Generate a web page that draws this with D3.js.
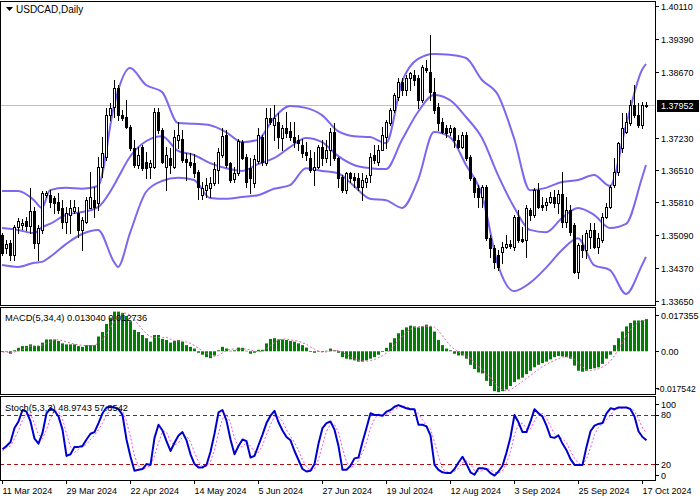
<!DOCTYPE html>
<html><head><meta charset="utf-8">
<script src="https://cdn.jsdelivr.net/npm/d3@7"></script>
<style>
body{margin:0;background:#fff}
svg{display:block}
text{font-family:"Liberation Sans",Arial,sans-serif;fill:#000}
</style>
</head><body>
<svg id="c" width="700" height="500"></svg>
<script>
// ---------- DATA ----------
const symbolTitle = "USDCAD,Daily";
const open = [1.3510,1.3481,1.3492,1.3466,1.3527,1.3532,1.3541,1.3530,1.3563,1.3492,
1.3521,1.3597,1.3597,1.3591,1.3582,1.3569,1.3538,1.3554,1.3563,1.3558,
1.3521,1.3538,1.3569,1.3586,1.3580,1.3659,1.3681,1.3772,1.3790,1.3831,
1.3772,1.3768,1.3746,1.3700,1.3663,1.3702,1.3670,1.3659,1.3659,1.3778,
1.3740,1.3659,1.3678,1.3659,1.3718,1.3720,1.3676,1.3670,1.3668,1.3648,
1.3597,1.3608,1.3613,1.3624,1.3652,1.3685,1.3729,1.3668,1.3632,1.3646,
1.3713,1.3681,1.3657,1.3624,1.3672,1.3724,1.3668,1.3766,1.3750,1.3757,
1.3722,1.3744,1.3737,1.3724,1.3718,1.3707,1.3691,1.3678,1.3652,1.3659,
1.3702,1.3678,1.3696,1.3735,1.3678,1.3637,1.3608,1.3646,1.3637,1.3635,
1.3615,1.3626,1.3641,1.3685,1.3670,1.3696,1.3724,1.3755,1.3783,1.3812,
1.3845,1.3827,1.3853,1.3860,1.3853,1.3805,1.3875,1.3866,1.3823,1.3790,
1.3757,1.3744,1.3735,1.3744,1.3718,1.3702,1.3729,1.3681,1.3635,1.3613,
1.3593,1.3615,1.3503,1.3481,1.3466,1.3473,1.3484,1.3490,1.3484,1.3549,
1.3501,1.3499,1.3565,1.3554,1.3608,1.3575,1.3575,1.3582,1.3593,1.3580,
1.3600,1.3538,1.3565,1.3532,1.3429,1.3488,1.3477,1.3505,1.3521,1.3484,
1.3499,1.3549,1.3571,1.3619,1.3648,1.3700,1.3735,1.3755,1.3794,1.3772,
1.3750,1.3792];
const high = [1.3514,1.3499,1.3499,1.3532,1.3547,1.3545,1.3549,1.3612,1.3571,1.3532,
1.3606,1.3606,1.3608,1.3595,1.3602,1.3586,1.3571,1.3586,1.3586,1.3571,
1.3549,1.3593,1.3648,1.3615,1.3681,1.3725,1.3787,1.3799,1.3849,1.3838,
1.3783,1.3805,1.3750,1.3718,1.3702,1.3707,1.3692,1.3674,1.3787,1.3787,
1.3744,1.3702,1.3700,1.3740,1.3757,1.3740,1.3689,1.3689,1.3687,1.3652,
1.3626,1.3635,1.3637,1.3670,1.3700,1.3744,1.3740,1.3670,1.3659,1.3720,
1.3718,1.3687,1.3678,1.3685,1.3744,1.3729,1.3787,1.3787,1.3794,1.3777,
1.3750,1.3779,1.3757,1.3757,1.3729,1.3720,1.3713,1.3696,1.3691,1.3707,
1.3718,1.3718,1.3744,1.3755,1.3681,1.3641,1.3648,1.3648,1.3646,1.3646,
1.3646,1.3641,1.3689,1.3707,1.3707,1.3746,1.3761,1.3787,1.3820,1.3853,
1.3853,1.3860,1.3866,1.3871,1.3860,1.3882,1.3893,1.3947,1.3853,1.3799,
1.3766,1.3750,1.3750,1.3746,1.3729,1.3735,1.3735,1.3685,1.3637,1.3619,
1.3619,1.3619,1.3510,1.3488,1.3477,1.3495,1.3510,1.3499,1.3554,1.3565,
1.3527,1.3575,1.3569,1.3613,1.3624,1.3593,1.3591,1.3604,1.3608,1.3608,
1.3648,1.3593,1.3575,1.3536,1.3492,1.3510,1.3521,1.3536,1.3536,1.3514,
1.3558,1.3580,1.3619,1.3678,1.3713,1.3777,1.3777,1.3805,1.3838,1.3799,
1.3801,1.3801];
const low = [1.3466,1.3470,1.3455,1.3455,1.3514,1.3523,1.3521,1.3514,1.3481,1.3455,
1.3514,1.3593,1.3571,1.3558,1.3558,1.3525,1.3514,1.3514,1.3558,1.3505,
1.3477,1.3536,1.3569,1.3549,1.3565,1.3637,1.3674,1.3761,1.3768,1.3761,
1.3761,1.3744,1.3696,1.3659,1.3657,1.3652,1.3635,1.3635,1.3657,1.3733,
1.3668,1.3608,1.3646,1.3657,1.3700,1.3670,1.3630,1.3659,1.3637,1.3589,
1.3589,1.3593,1.3593,1.3619,1.3624,1.3681,1.3659,1.3626,1.3626,1.3641,
1.3676,1.3615,1.3602,1.3615,1.3668,1.3663,1.3663,1.3753,1.3718,1.3700,
1.3696,1.3724,1.3718,1.3702,1.3696,1.3681,1.3674,1.3648,1.3619,1.3657,
1.3663,1.3670,1.3663,1.3674,1.3615,1.3604,1.3602,1.3626,1.3615,1.3608,
1.3586,1.3615,1.3626,1.3668,1.3663,1.3696,1.3700,1.3750,1.3779,1.3805,
1.3816,1.3816,1.3827,1.3838,1.3788,1.3801,1.3866,1.3805,1.3777,1.3740,
1.3733,1.3724,1.3729,1.3702,1.3700,1.3700,1.3674,1.3630,1.3593,1.3571,
1.3571,1.3499,1.3462,1.3438,1.3433,1.3448,1.3481,1.3481,1.3477,1.3495,
1.3495,1.3462,1.3543,1.3549,1.3569,1.3565,1.3565,1.3580,1.3571,1.3558,
1.3527,1.3527,1.3510,1.3427,1.3416,1.3462,1.3460,1.3481,1.3481,1.3470,
1.3495,1.3547,1.3569,1.3615,1.3641,1.3691,1.3733,1.3750,1.3768,1.3746,
1.3744,1.3790];
const close = [1.3470,1.3490,1.3466,1.3527,1.3541,1.3536,1.3530,1.3563,1.3492,1.3525,
1.3602,1.3602,1.3582,1.3580,1.3565,1.3538,1.3558,1.3569,1.3571,1.3521,
1.3543,1.3586,1.3593,1.3571,1.3659,1.3689,1.3772,1.3787,1.3831,1.3772,
1.3766,1.3746,1.3700,1.3663,1.3685,1.3657,1.3657,1.3668,1.3778,1.3740,
1.3670,1.3685,1.3663,1.3725,1.3729,1.3674,1.3670,1.3663,1.3646,1.3615,
1.3613,1.3619,1.3624,1.3654,1.3691,1.3727,1.3663,1.3630,1.3646,1.3715,
1.3678,1.3626,1.3635,1.3676,1.3729,1.3670,1.3766,1.3757,1.3766,1.3724,
1.3744,1.3733,1.3724,1.3713,1.3711,1.3689,1.3685,1.3652,1.3659,1.3702,
1.3678,1.3696,1.3735,1.3678,1.3635,1.3608,1.3646,1.3635,1.3630,1.3615,
1.3630,1.3635,1.3681,1.3674,1.3696,1.3729,1.3757,1.3783,1.3816,1.3845,
1.3827,1.3853,1.3864,1.3849,1.3805,1.3877,1.3871,1.3823,1.3783,1.3755,
1.3735,1.3733,1.3744,1.3718,1.3702,1.3729,1.3678,1.3635,1.3604,1.3593,
1.3615,1.3503,1.3481,1.3451,1.3440,1.3484,1.3490,1.3486,1.3549,1.3499,
1.3497,1.3569,1.3554,1.3608,1.3571,1.3571,1.3582,1.3593,1.3580,1.3600,
1.3538,1.3565,1.3516,1.3429,1.3488,1.3477,1.3514,1.3521,1.3484,1.3503,
1.3549,1.3571,1.3615,1.3648,1.3711,1.3744,1.3757,1.3794,1.3772,1.3750,
1.3794,1.37952];
const lastPrice = 1.37952;

// Bollinger bands, read at sampled bars
const bandBars = [0,4,8,10,12,16,20,24,28,29,32,36,40,44,48,52,56,60,64,68,72,76,80,84,88,92,96,100,104,108,112,116,120,124,128,132,136,140,144,148,152,156,160,161];
const bbUpper = [1.3606,1.3606,1.3586,1.3569,1.3608,1.3613,1.3611,1.3617,1.3792,1.3825,1.3875,1.3838,1.3823,1.3755,1.3753,1.3750,1.3735,1.3713,1.3718,1.3766,1.3792,1.3788,1.3772,1.3737,1.3726,1.3724,1.3711,1.3845,1.3895,1.3906,1.3904,1.3897,1.3849,1.3816,1.3722,1.3608,1.3613,1.3626,1.3630,1.3641,1.3617,1.3750,1.3871,1.3884];
const bbMiddle = [1.3525,1.3521,1.3514,1.3527,1.3534,1.3554,1.3560,1.3571,1.3619,1.3635,1.3681,1.3715,1.3726,1.3694,1.3685,1.3667,1.3656,1.3650,1.3665,1.3678,1.3702,1.3722,1.3713,1.3683,1.3663,1.3656,1.3654,1.3718,1.3779,1.3816,1.3805,1.3768,1.3722,1.3641,1.3571,1.3521,1.3516,1.3547,1.3569,1.3554,1.3525,1.3534,1.3635,1.3663];
const bbLower = [1.3444,1.3440,1.3449,1.3451,1.3462,1.3490,1.3512,1.3521,1.3451,1.3440,1.3514,1.3604,1.3628,1.3635,1.3630,1.3591,1.3589,1.3593,1.3597,1.3611,1.3619,1.3656,1.3650,1.3645,1.3617,1.3589,1.3586,1.3569,1.3630,1.3735,1.3724,1.3663,1.3597,1.3444,1.3387,1.3405,1.3438,1.3477,1.3503,1.3444,1.3433,1.3381,1.3444,1.3462];

const macdHist = [-0.0003,-0.0002,-0.0010,0.0004,0.0014,0.0021,0.0022,0.0028,0.0021,0.0021,
0.0035,0.0048,0.0048,0.0048,0.0042,0.0032,0.0028,0.0028,0.0028,0.0021,
0.0018,0.0025,0.0025,0.0025,0.0060,0.0078,0.0111,0.0136,0.0161,0.0161,
0.0156,0.0143,0.0122,0.0087,0.0078,0.0066,0.0053,0.0039,0.0066,0.0066,
0.0050,0.0046,0.0035,0.0042,0.0046,0.0039,0.0025,0.0018,0.0011,-0.0006,
-0.0014,-0.0024,-0.0028,-0.0017,0.0004,0.0018,0.0011,0.0002,0.0004,0.0015,
0.0014,0.0002,-0.0010,-0.0006,0.0006,0.0006,0.0032,0.0050,0.0053,0.0048,
0.0048,0.0046,0.0042,0.0039,0.0032,0.0025,0.0015,-0.0003,-0.0006,-0.0002,
-0.0003,0.0002,0.0011,0.0004,-0.0006,-0.0024,-0.0030,-0.0033,-0.0037,-0.0042,
-0.0042,-0.0037,-0.0030,-0.0024,-0.0014,-0.0003,0.0014,0.0035,0.0053,0.0073,
0.0087,0.0097,0.0104,0.0101,0.0097,0.0101,0.0108,0.0101,0.0080,0.0046,
0.0025,0.0011,0.0004,-0.0010,-0.0017,-0.0017,-0.0030,-0.0055,-0.0072,-0.0086,
-0.0090,-0.0120,-0.0141,-0.0162,-0.0166,-0.0162,-0.0155,-0.0141,-0.0125,-0.0114,
-0.0107,-0.0093,-0.0079,-0.0065,-0.0055,-0.0048,-0.0042,-0.0033,-0.0024,-0.0019,
-0.0021,-0.0024,-0.0030,-0.0058,-0.0079,-0.0083,-0.0079,-0.0072,-0.0069,-0.0065,
-0.0051,-0.0030,-0.0014,0.0025,0.0053,0.0080,0.0101,0.0115,0.0125,0.0125,
0.0126,0.01304];
const macdSignal = [-0.0003,-0.0003,-0.0005,-0.0003,0.0002,0.0007,0.0015,0.0021,0.0023,0.0023,
0.0026,0.0031,0.0038,0.0045,0.0047,0.0043,0.0038,0.0033,0.0029,0.0026,
0.0024,0.0023,0.0022,0.0023,0.0034,0.0047,0.0069,0.0096,0.0122,0.0142,
0.0154,0.0155,0.0146,0.0127,0.0108,0.0088,0.0071,0.0059,0.0056,0.0056,
0.0055,0.0057,0.0049,0.0043,0.0042,0.0041,0.0038,0.0032,0.0023,0.0012,
0.0002,-0.0008,-0.0018,-0.0021,-0.0016,-0.0006,0.0004,0.0009,0.0009,0.0008,
0.0009,0.0009,0.0005,0.0000,-0.0002,-0.0001,0.0010,0.0024,0.0035,0.0046,
0.0050,0.0049,0.0046,0.0044,0.0040,0.0035,0.0028,0.0017,0.0008,0.0001,
-0.0004,-0.0002,0.0002,0.0004,0.0003,-0.0004,-0.0014,-0.0023,-0.0031,-0.0036,
-0.0039,-0.0040,-0.0038,-0.0033,-0.0026,-0.0018,-0.0007,0.0008,0.0025,0.0044,
0.0062,0.0078,0.0090,0.0097,0.0100,0.0101,0.0102,0.0102,0.0098,0.0084,
0.0063,0.0041,0.0022,0.0008,-0.0003,-0.0010,-0.0019,-0.0030,-0.0044,-0.0061,
-0.0076,-0.0092,-0.0109,-0.0128,-0.0147,-0.0158,-0.0161,-0.0156,-0.0146,-0.0134,
-0.0122,-0.0110,-0.0098,-0.0086,-0.0073,-0.0062,-0.0053,-0.0045,-0.0037,-0.0030,
-0.0024,-0.0022,-0.0024,-0.0033,-0.0048,-0.0063,-0.0075,-0.0078,-0.0076,-0.0071,
-0.0064,-0.0054,-0.0040,-0.0018,0.0009,0.0036,0.0065,0.0087,0.0105,0.0117,
0.0123,0.012736];
const macdLabel = "MACD(5,34,4) 0.013040 0.012736";
const macdScaleLabels = ["0.017355","0.00","-0.017542"];
const macdMax = 0.017355, macdMin = -0.017542;

const stochK = [38,42,47,64,72,86,84,72,51,45,
58,82,88,85,78,62,30,32,41,41,
42,50,57,59,70,82,89,90,89,87,
80,50,29,12,13,14,20,19,52,68,
61,48,36,46,55,59,49,32,20,16,
16,19,35,57,83,86,73,50,32,42,
50,48,28,30,43,56,70,79,85,71,
61,53,49,36,25,14,11,12,20,45,
64,70,72,62,42,13,13,18,27,28,
47,64,82,80,80,79,84,86,90,92,
90,88,87,87,68,68,66,55,19,13,
10,9,9,14,22,29,20,10,7,15,
15,14,9,6,11,18,34,53,80,71,
59,59,72,87,82,78,67,53,52,55,
45,37,26,19,19,19,41,60,67,69,
70,82,88,87,89,89,89,87,78,60,
53,48.97];
const stochD = [36,40,42,51,61,74,81,81,69,56,
51,62,76,85,84,75,57,41,34,38,
41,44,50,55,62,70,80,87,89,89,
85,72,53,30,18,13,16,18,30,46,
60,59,48,43,46,53,54,47,34,23,
17,17,23,37,58,75,81,70,52,41,
41,47,42,35,34,43,56,68,78,78,
72,62,54,46,37,25,17,12,14,26,
43,60,69,68,59,39,23,15,19,24,
34,46,64,75,81,80,81,83,87,89,
91,90,88,87,81,74,67,63,47,29,
14,11,9,11,15,22,24,20,12,11,
12,15,13,10,9,12,21,35,56,68,
70,63,63,73,80,82,76,66,57,53,
51,46,36,27,21,19,26,40,56,65,
69,74,80,86,88,88,89,88,85,75,
64,57.85];
const stochLabel = "Stoch(5,3,3) 48.9743 57.8542";
const stochLevels = [80,20];
const stochScaleLabels = ["100","80","20","0"];
const stochScaleValues = [100,80,20,0];

const priceTicks = [1.40110,1.39390,1.38670,1.37230,1.36510,1.35810,1.35090,1.34370,1.33650];
const dateTickBars = [0,16,32,48,64,80,96,112,128,144,160];
const dateTickLabels = ["11 Mar 2024","29 Mar 2024","22 Apr 2024","14 May 2024","5 Jun 2024","27 Jun 2024","19 Jul 2024","12 Aug 2024","3 Sep 2024","25 Sep 2024","17 Oct 2024"];

// ---------- DRAW ----------
const svg = d3.select("#c");
const plotL = 0, plotR = 655;
const main = {top:1, bottom:305};
const mac = {top:307, bottom:394};
const sto = {top:396, bottom:480};

const x = d3.scaleLinear().domain([0, close.length-1]).range([2, 646]);
const yP = d3.scaleLinear().domain([1.33567, 1.40218]).range([305, 1]);
const yM = d3.scaleLinear().domain([macdMin, macdMax]).range([394.5, 308.5]);
const yS = d3.scaleLinear().domain([0, 100]).range([480.5, 398.5]);

const defs = svg.append("defs");
[["cMain",main],["cMacd",mac],["cSto",sto]].forEach(([id,p])=>{
  defs.append("clipPath").attr("id",id).append("rect")
    .attr("x",plotL+1).attr("y",p.top+1).attr("width",plotR-plotL-1).attr("height",p.bottom-p.top-1);
});

// ----- main panel -----
const gMain = svg.append("g").attr("clip-path","url(#cMain)");
gMain.append("line").attr("x1",0).attr("x2",plotR)
  .attr("y1",Math.round(yP(lastPrice))+0.5).attr("y2",Math.round(yP(lastPrice))+0.5)
  .attr("stroke","#c0c0c0").attr("stroke-width",1);

const bandLine = arr => d3.line()
  .x((d,k)=>x(bandBars[k])).y(d=>yP(d)).curve(d3.curveMonotoneX)(arr);
[bbUpper,bbMiddle,bbLower].forEach(arr=>{
  gMain.append("path").attr("d",bandLine(arr)).attr("fill","none")
    .attr("stroke","#7B68EE").attr("stroke-width",2);
});

const idx = d3.range(close.length);
const candles = gMain.append("g");
idx.forEach(i=>{
  const cx = Math.round(x(i));
  candles.append("line").attr("x1",cx+0.5).attr("x2",cx+0.5)
    .attr("y1",Math.round(yP(high[i]))).attr("y2",Math.round(yP(low[i]))+1)
    .attr("stroke","#000").attr("stroke-width",1);
  const t = Math.round(yP(Math.max(open[i],close[i])));
  const b = Math.round(yP(Math.min(open[i],close[i])));
  const up = close[i] >= open[i];
  candles.append("rect").attr("x",cx-0.5).attr("y",t+0.5).attr("width",2)
    .attr("height",Math.max(b-t,0))
    .attr("fill",up?"#fff":"#000").attr("stroke","#000").attr("stroke-width",1);
});

// title
svg.append("path").attr("d","M6,7 L13,7 L9.5,11 Z").attr("fill","#000");
svg.append("text").attr("x",16).attr("y",13).attr("font-size","10px").text(symbolTitle);

// ----- MACD panel -----
const gMacd = svg.append("g").attr("clip-path","url(#cMacd)");
const z = yM(0);
idx.forEach(i=>{
  const cx = Math.round(x(i));
  const v = yM(macdHist[i]);
  gMacd.append("rect").attr("x",cx-1).attr("width",3)
    .attr("y",Math.min(v,z)).attr("height",Math.max(Math.abs(v-z),0.5))
    .attr("fill","#008000");
});
gMacd.append("path").attr("d",d3.line().x((d,i)=>x(i)+0.5).y(d=>yM(d))(macdSignal))
  .attr("fill","none").attr("stroke","#e060b0").attr("stroke-width",1).attr("stroke-dasharray","2,2");
svg.append("text").attr("x",5).attr("y",321).attr("font-size","9.3px").text(macdLabel);

// ----- Stochastic panel -----
const gSto = svg.append("g").attr("clip-path","url(#cSto)");
stochLevels.forEach(l=>{
  gSto.append("line").attr("x1",0).attr("x2",plotR)
    .attr("y1",Math.round(yS(l))+0.5).attr("y2",Math.round(yS(l))+0.5)
    .attr("stroke","#b01010").attr("stroke-width",1).attr("stroke-dasharray","4,3");
});
gSto.append("path").attr("d",d3.line().x((d,i)=>x(i)+0.5).y(d=>yS(d))(stochD))
  .attr("fill","none").attr("stroke","#f050f0").attr("stroke-width",1).attr("stroke-dasharray","2,2");
gSto.append("path").attr("d",d3.line().x((d,i)=>x(i)+0.5).y(d=>yS(d))(stochK))
  .attr("fill","none").attr("stroke","#0000cc").attr("stroke-width",2).attr("stroke-linejoin","round");
svg.append("text").attr("x",5).attr("y",411).attr("font-size","9.3px").text(stochLabel);

// ----- frames -----
[main,mac,sto].forEach(p=>{
  svg.append("rect").attr("x",plotL+0.5).attr("y",p.top+0.5)
    .attr("width",plotR-plotL).attr("height",p.bottom-p.top)
    .attr("fill","none").attr("stroke","#000").attr("stroke-width",1);
});

// ----- right price axis -----
const axG = svg.append("g");
priceTicks.forEach(p=>{
  const yy = Math.round(yP(p))+0.5;
  axG.append("line").attr("x1",plotR).attr("x2",plotR+4).attr("y1",yy).attr("y2",yy).attr("stroke","#000");
  axG.append("text").attr("x",661).attr("y",yy+3.5).attr("font-size","9px").text(p.toFixed(5));
});
const ly = Math.round(yP(lastPrice));
axG.append("rect").attr("x",657).attr("y",ly-5).attr("width",42).attr("height",12).attr("fill","#000");
axG.append("text").attr("x",661).attr("y",ly+4).attr("font-size","9px").style("fill","#fff").text(lastPrice.toFixed(5));

// MACD scale labels
const macdLabY = [yM(macdMax)+6.5, yM(0), yM(macdMin)-6.5];
macdScaleLabels.forEach((t,k)=>{
  axG.append("line").attr("x1",plotR).attr("x2",plotR+4).attr("y1",Math.round(macdLabY[k])+0.5).attr("y2",Math.round(macdLabY[k])+0.5).attr("stroke","#000");
  const neg = t.startsWith("-");
  axG.append("text").attr("x",neg?657:661).attr("y",macdLabY[k]+3.5)
    .attr("font-size",neg?"8.6px":"9px").text(t);
});
// Stoch scale labels
stochScaleLabels.forEach((t,k)=>{
  let yy = yS(stochScaleValues[k]);
  if (stochScaleValues[k]===100) yy += 5.5;
  if (stochScaleValues[k]===0) yy -= 5.5;
  axG.append("line").attr("x1",plotR).attr("x2",plotR+4).attr("y1",Math.round(yy)+0.5).attr("y2",Math.round(yy)+0.5).attr("stroke","#000");
  axG.append("text").attr("x",661).attr("y",yy+3.5).attr("font-size","9px").text(t);
});

// ----- date axis -----
dateTickBars.forEach((b,k)=>{
  const xx = Math.round(x(b))+0.5;
  axG.append("line").attr("x1",xx).attr("x2",xx).attr("y1",sto.bottom).attr("y2",sto.bottom+4).attr("stroke","#000");
  axG.append("text").attr("x",xx).attr("y",494).attr("font-size","9px").text(dateTickLabels[k]);
});
</script>
</body></html>
